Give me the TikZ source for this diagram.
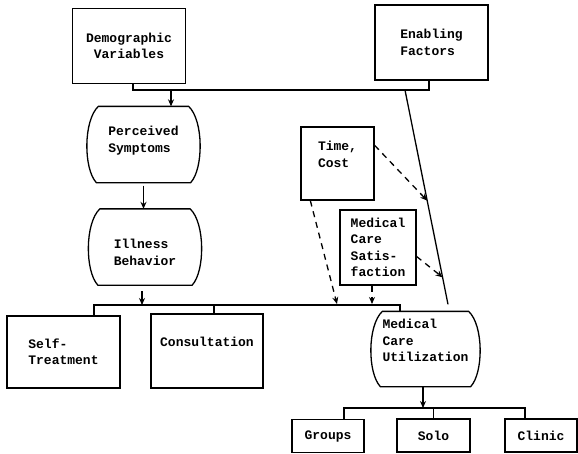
\documentclass[tikz,border=0pt]{standalone}
\usepackage{fontspec}
\setmonofont{Liberation Mono}
\usepackage{tikz}
\usetikzlibrary{arrows.meta,calc}
\tikzstyle{bx} = [rectangle, draw, align=left, minimum width=113pt,
    minimum height=75pt, inner sep=2pt]
\tikzstyle{brl} = [rectangle, align=left, minimum width=113pt,
    minimum height=75pt, inner sep=2pt]
\tikzstyle{sm} = [rectangle, draw, minimum width=72pt, minimum height=33pt]
\tikzstyle{dsh} = [dash pattern=on 6pt off 5pt]

% barrel outline round a brl node
\newcommand{\barrel}[1]{%
  \draw ([xshift=12pt]#1.north west) -- ([xshift=-12pt]#1.north east)
    .. controls ([xshift=3pt,yshift=-14pt]#1.north east)
       and ([xshift=3pt,yshift=14pt]#1.south east) .. ([xshift=-10pt]#1.south east)
    -- ([xshift=10pt]#1.south west)
    .. controls ([xshift=-3pt,yshift=14pt]#1.south west)
       and ([xshift=-3pt,yshift=-14pt]#1.north west) .. cycle;}

\begin{document}
\begin{tikzpicture}[x=1pt,y=-1pt,>={Stealth[length=7pt,width=6pt]},line width=1.3pt,
                    font=\ttfamily\bfseries\fontsize{13}{16.5}\selectfont]
  \useasboundingbox (0,0) rectangle (578,453);

  \node[bx, align=center]  (demo) at (129,46)    {Demographic\\Variables};
  \node[bx]                (enab) at (431.5,42.5) {Enabling\\Factors};
  \node[brl, text height=25.5pt, text depth=10pt] (perc) at (143.5,144.5) {Perceived\\Symptoms};
  \node[brl, text height=38.5pt, text depth=2pt]  (ill)  at (145,247)   {Illness\\Behavior};
  \node[bx, minimum height=72pt] (self) at (63.5,352) {Self-\\Treatment};
  \node[bx, minimum width=112pt, minimum height=74pt, text height=9.5pt, text depth=18.5pt] (cons) at (207,351) {Consultation};
  \node[brl, minimum width=109pt, minimum height=74pt, text height=42pt, text depth=17pt] (mcu) at (425.5,349) {Medical\\Care\\Utilization};
  \node[bx, minimum width=73pt, minimum height=73pt, text height=25.5pt, text depth=18pt] (time) at (337.5,163.5) {Time,\\Cost};
  \node[bx, minimum width=76pt] (sat) at (378,247.5) {Medical\\Care\\Satis-\\faction};
  \node[sm]                      (grp)  at (328,436)   {Groups};
  \node[sm, minimum width=73pt]  (solo) at (433.5,435.5) {Solo};
  \node[sm]                      (clin) at (541,435.5) {Clinic};

  \barrel{perc}
  \barrel{ill}
  \barrel{mcu}

  % top bus
  \coordinate (b1) at (171,90);
  \draw ([xshift=4pt]demo.south) |- ([xshift=-2.5pt]enab.south |- b1) -- ([xshift=-2.5pt]enab.south);
  \draw[->] (b1) -- (b1 |- perc.north);
  \draw[->, shorten <=3pt] (perc.south) -- (perc.south |- ill.north);

  % enabling factors line
  \coordinate (e1) at (405,90);
  \coordinate (e2) at ([xshift=22.5pt,yshift=7pt]mcu.north);
  \draw (e1) -- (e2);
  \coordinate (s1) at ($(e1)!0.516!(e2)$);
  \coordinate (s2) at ($(e1)!0.874!(e2)$);

  % middle bus
  \coordinate (b2) at (142,305);
  \draw[->, shorten <=6pt] (ill.south -| b2) -- (b2);
  \draw ([xshift=30.5pt]self.north) |- ([xshift=-25.5pt]mcu.north |- b2) -- ([xshift=-25.5pt]mcu.north);
  \draw ([xshift=7pt]cons.north) -- ([xshift=7pt]cons.north |- b2);

  % dashed influences
  \coordinate (t1) at (337,304);
  \draw[->,dsh] ([yshift=-19pt]time.north east) -- (s1);
  \draw[->,dsh] ([xshift=10pt]time.south west) -- (t1);
  \draw[->,dsh] ([xshift=-6pt]sat.south) -- ([xshift=-6pt,yshift=1pt]sat.south |- b2);
  \draw[->,dsh] ([yshift=-9pt]sat.east) -- (s2);

  % bottom bus
  \coordinate (b3) at (423,408);
  \draw[->] (mcu.south -| b3) -- (b3);
  \draw ([xshift=16pt]grp.north) |- ([xshift=-16pt]clin.north |- b3) -- ([xshift=-16pt]clin.north);
  \draw (solo.north) -- (solo.north |- b3);
\end{tikzpicture}
\end{document}
